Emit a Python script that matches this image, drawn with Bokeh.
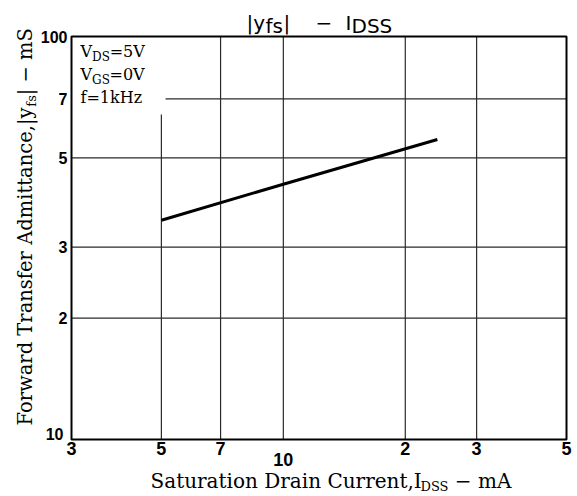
import math
from bokeh.plotting import figure
from bokeh.models import Range1d, Label, LabelSet, ColumnDataSource
from bokeh.core.properties import value
from bokeh.embed import file_html
from bokeh.resources import INLINE

# ---- data ----
idss_ma = [5, 10, 24]          # Saturation drain current, mA
yfs_ms = [35, 43, 55.5]        # |yfs|, mS

x_range_lim = [3, 50]
y_range_lim = [10, 100]
x_grid_vals = [5, 7, 10, 20, 30]
y_grid_vals = [20, 30, 50, 70]
x_tick_vals = [3, 5, 7, 20, 30, 50]
x_tick_text = ["3", "5", "7", "2", "3", "5"]
x_decade_vals = [10]
x_decade_text = ["10"]
y_tick_vals = [20, 30, 50, 70, 100]
y_tick_text = ["2", "3", "5", "7", "100"]
y_bottom_vals = [10]
y_bottom_text = ["10"]
cond_box_x = [3, 5.12]
cond_box_y = [64, 100]

SERIF = "DejaVu Serif"
SANS = "DejaVu Sans"
TICKF = "Liberation Sans"

# ---- layout: the plotting area fills the canvas; the chart box sits inside it ----
W, H = 577, 496
FL, FR, FT, FB = 71, 566, 36, 439          # chart box in canvas pixels
dec_x = (FR - FL) / math.log10(x_range_lim[1] / x_range_lim[0])
dec_y = (FB - FT) / math.log10(y_range_lim[1] / y_range_lim[0])
x_lo = x_range_lim[0] * 10 ** (-FL / dec_x)
x_hi = x_range_lim[1] * 10 ** ((W - FR) / dec_x)
y_lo = y_range_lim[0] * 10 ** (-(H - FB) / dec_y)
y_hi = y_range_lim[1] * 10 ** (FT / dec_y)

p = figure(width=W, height=H, x_axis_type="log", y_axis_type="log",
           x_range=Range1d(x_lo, x_hi), y_range=Range1d(y_lo, y_hi),
           x_axis_location=None, y_axis_location=None,
           output_backend="svg", toolbar_location=None,
           min_border_left=0, min_border_right=0, min_border_top=0, min_border_bottom=0)
p.background_fill_color = "white"
p.border_fill_color = "white"
p.outline_line_color = None
p.xgrid.visible = False
p.ygrid.visible = False

GRID = "#2a2a2a"
# grid lines
p.segment(x0=x_grid_vals, y0=[y_range_lim[0]] * len(x_grid_vals),
          x1=x_grid_vals, y1=[y_range_lim[1]] * len(x_grid_vals), line_color=GRID, line_width=1.2)
p.segment(x0=[x_range_lim[0]] * len(y_grid_vals), y0=y_grid_vals,
          x1=[x_range_lim[1]] * len(y_grid_vals), y1=y_grid_vals, line_color=GRID, line_width=1.2)
# white panel behind the test conditions
p.quad(left=[cond_box_x[0]], right=[cond_box_x[1]], bottom=[cond_box_y[0]], top=[cond_box_y[1]],
       fill_color="white", line_color=None)
# data
p.line(idss_ma, yfs_ms, line_width=3, line_color="black")
# chart box
p.quad(left=[x_range_lim[0]], right=[x_range_lim[1]], bottom=[y_range_lim[0]], top=[y_range_lim[1]],
       fill_color=None, line_color="black", line_width=2)

# ---- tick labels ----
src_x = ColumnDataSource(dict(x=x_tick_vals, y=[y_range_lim[0]] * len(x_tick_vals), t=x_tick_text))
p.add_layout(LabelSet(source=src_x, x="x", y="y", text="t", text_align="center", text_baseline="top",
                      y_offset=-2, text_font=value(TICKF), text_font_style="bold", text_font_size="18px",
                      text_color="black"))
src_xd = ColumnDataSource(dict(x=x_decade_vals, y=[y_range_lim[0]] * len(x_decade_vals), t=x_decade_text))
p.add_layout(LabelSet(source=src_xd, x="x", y="y", text="t", text_align="center", text_baseline="top",
                      y_offset=-13, text_font=value(TICKF), text_font_style="bold", text_font_size="18px",
                      text_color="black"))
src_y = ColumnDataSource(dict(x=[x_range_lim[0]] * len(y_tick_vals), y=y_tick_vals, t=y_tick_text))
p.add_layout(LabelSet(source=src_y, x="x", y="y", text="t", text_align="right", text_baseline="middle",
                      x_offset=-4, text_font=value(TICKF), text_font_style="bold", text_font_size="16px",
                      text_color="black"))
src_yb = ColumnDataSource(dict(x=[x_range_lim[0]] * len(y_bottom_vals), y=y_bottom_vals, t=y_bottom_text))
p.add_layout(LabelSet(source=src_yb, x="x", y="y", text="t", text_align="right", text_baseline="bottom",
                      x_offset=-8, text_font=value(TICKF), text_font_style="bold", text_font_size="16px",
                      text_color="black"))

# ---- free text (positions in canvas px, anchored to the chart box's top-left corner) ----
EM = {' ': 0.318, ',': 0.318, '|': 0.337, '\u2212': 0.838, '=': 0.838,
      'A': 0.722, 'C': 0.731, 'D': 0.787, 'F': 0.679, 'G': 0.775, 'H': 0.846, 'I': 0.397,
      'S': 0.682, 'T': 0.670, 'V': 0.722,
      'a': 0.596, 'c': 0.556, 'd': 0.642, 'e': 0.592, 'f': 0.369, 'i': 0.320, 'k': 0.617,
      'm': 0.948, 'n': 0.642, 'o': 0.602, 'r': 0.478, 's': 0.513, 't': 0.402, 'u': 0.642,
      'w': 0.857, 'y': 0.567, 'z': 0.525}
BASE_FIX = 0.3   # observed downward shift of the drawn baseline, in em


def tw(s, size):
    return sum(EM.get(c, 0.636) for c in s) * size


def lab(text, sx, sy, size, font, angle=0.0):
    if angle:
        sx -= BASE_FIX * size
    else:
        sy -= BASE_FIX * size
    p.add_layout(Label(x=x_range_lim[0], y=y_range_lim[1], x_offset=sx - FL, y_offset=FT - sy,
                       text=text, text_font=font, text_font_size=f"{size}px",
                       text_color="black", text_align="left", text_baseline="alphabetic",
                       angle=angle))


def seq_h(pieces, sx, sy, font):
    for text, size, dy in pieces:
        stripped = text.lstrip(" ")
        sx += tw(text[:len(text) - len(stripped)], size)
        lab(stripped, sx, sy + dy, size, font)
        sx += tw(stripped, size)


def seq_v(pieces, sx, sy, font):
    for text, size, dy in pieces:
        stripped = text.lstrip(" ")
        sy -= tw(text[:len(text) - len(stripped)], size)
        lab(stripped, sx + dy, sy, size, font, angle=math.pi / 2)
        sy -= tw(stripped, size)


# test conditions
seq_h([("V", 16, 0), ("DS", 12, 4), ("=5V", 16, 0)], 80, 56, SERIF)
seq_h([("V", 16, 0), ("GS", 12, 4), ("=0V", 16, 0)], 80, 79, SERIF)
seq_h([("f=1kHz", 16, 0)], 80, 102, SERIF)

# x axis title
seq_h([("Saturation Drain Current,I", 20, 0), ("DSS", 13, 4), (" \u2212 mA", 20, 0)], 150, 486, SERIF)

# y axis title
seq_v([("Forward Transfer Admittance,|y", 19.5, 0), ("fs", 13, 4), ("|", 19.5, 0), (" \u2212 mS", 19.5, 0)],
      31, 425, SERIF)

# chart title
lab("|y", 246, 28, 20, SANS)
lab("fs", 265, 31, 20, SANS)
lab("|", 283, 28, 20, SANS)
lab("\u2212", 315, 28, 20, SANS)
lab("I", 345, 28, 20, SANS)
lab("DSS", 351, 31, 20, SANS)

open("out.html", "w").write(file_html(p, INLINE))
